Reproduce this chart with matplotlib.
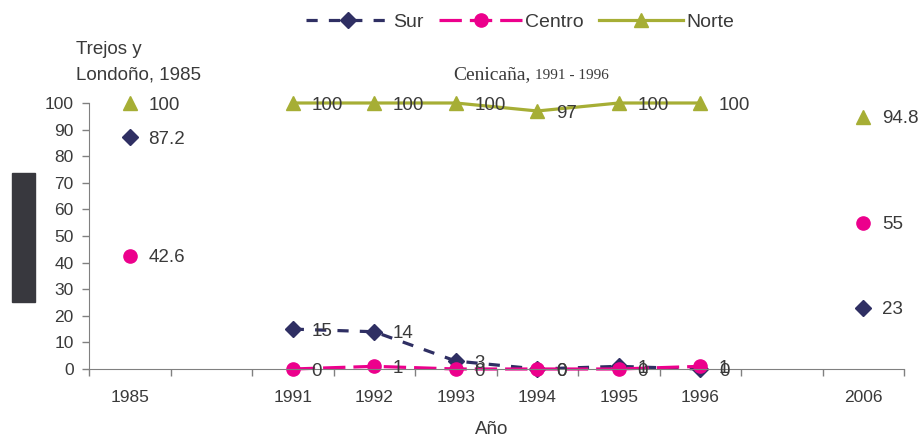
import matplotlib; matplotlib.use("Agg")
import matplotlib.pyplot as plt
from matplotlib.patches import Rectangle

# categorias del eje x (huecos entre 1985, 1991-1996 y 2006)
YEARS = ["1985", "", "1991", "1992", "1993", "1994", "1995", "1996", "", "2006"]
CENI_YEARS = ["1991", "1992", "1993", "1994", "1995", "1996"]

# Cenicaña, 1991 - 1996
SUR_CENI    = [15, 14, 3, 0, 1, 0]
CENTRO_CENI = [0, 1, 0, 0, 0, 1]
NORTE_CENI  = [100, 100, 100, 97, 100, 100]

# Trejos y Londoño, 1985
SUR_1985, CENTRO_1985, NORTE_1985 = 87.2, 42.6, 100
# 2006
SUR_2006, CENTRO_2006, NORTE_2006 = 23, 55, 94.8

NAVY  = "#2f2f63"
PINK  = "#ec008c"
OLIVE = "#a6ae35"
TXT   = "#3a3a3a"
AXC   = "#808080"

plt.rcParams["font.family"] = ["Liberation Sans", "DejaVu Sans"]

fig = plt.figure(figsize=(9.24, 4.41), dpi=100)
ax = fig.add_axes([89 / 924, 1 - 369 / 441, 815 / 924, 266 / 441])

pos = {y: i + 0.5 for i, y in enumerate(YEARS) if y}
xc = [pos[y] for y in CENI_YEARS]

series = [
    ("Sur", SUR_CENI, SUR_1985, SUR_2006, NAVY, "D", 8, (3.5, 3.5)),
    ("Centro", CENTRO_CENI, CENTRO_1985, CENTRO_2006, PINK, "o", 9.5, (7, 2.5)),
    ("Norte", NORTE_CENI, NORTE_1985, NORTE_2006, OLIVE, "^", 9.5, None),
]

handles = []
for name, vals, v85, v06, col, mk, ms, dash in series:
    ln, = ax.plot(xc, vals, color=col, lw=2.3, marker=mk, ms=ms,
                  mec=col, mfc=col, label=name, clip_on=False)
    if dash:
        ln.set_dashes(dash)
    handles.append(ln)
    ax.plot([pos["1985"], pos["2006"]], [v85, v06], ls="none", marker=mk,
            ms=ms, color=col, mec=col, clip_on=False)
    for x, v in list(zip(xc, vals)) + [(pos["1985"], v85), (pos["2006"], v06)]:
        ax.annotate(f"{v:g}", (x, v), xytext=(13.5, -1.5), textcoords="offset points",
                    ha="left", va="center", fontsize=13.5, color=TXT)

ax.set_xlim(0, len(YEARS))
ax.set_ylim(0, 100)
ax.set_yticks(range(0, 101, 10))
ax.set_xticks(range(0, len(YEARS) + 1))
ax.set_xticklabels([])
ax.set_xticks(list(pos.values()), list(pos.keys()), minor=True)
ax.tick_params(axis="x", which="major", length=5, color=AXC, width=1)
ax.tick_params(axis="x", which="minor", length=0, pad=15, labelsize=12.5, labelcolor=TXT)
ax.tick_params(axis="y", length=5, color=AXC, width=1, pad=6, labelsize=12.5, labelcolor=TXT)
for s in ("top", "right"):
    ax.spines[s].set_visible(False)
for s in ("left", "bottom"):
    ax.spines[s].set_color(AXC)

fig.legend(handles=handles, loc="center", bbox_to_anchor=(520 / 924, 1 - 22 / 441),
           ncol=3, frameon=False, fontsize=14, handlelength=4.3, handletextpad=0.15,
           columnspacing=0.8, labelcolor=TXT)

fig.text(76 / 924, 1 - 50 / 441, "Trejos y", ha="left", va="center", fontsize=13.5, color=TXT)
fig.text(76 / 924, 1 - 75 / 441, "Londoño, 1985", ha="left", va="center", fontsize=13.5, color=TXT)

fig.text(531 / 924, 1 - 79 / 441, "Cenicaña,", ha="right", va="baseline",
         fontsize=14, family="Liberation Serif", color=TXT)
fig.text(535 / 924, 1 - 79 / 441, "1991 - 1996", ha="left", va="baseline",
         fontsize=11, family="Liberation Serif", color=TXT)

fig.text(492 / 924, 1 - 430 / 441, "Año", ha="center", va="center", fontsize=13.5, color=TXT)

# bloque oscuro junto al eje y
fig.patches.append(Rectangle((12 / 924, 1 - 302 / 441), 23 / 924, 129 / 441,
                             transform=fig.transFigure, color="#38383e", zorder=5))

fig.savefig("out.png", dpi=100)
